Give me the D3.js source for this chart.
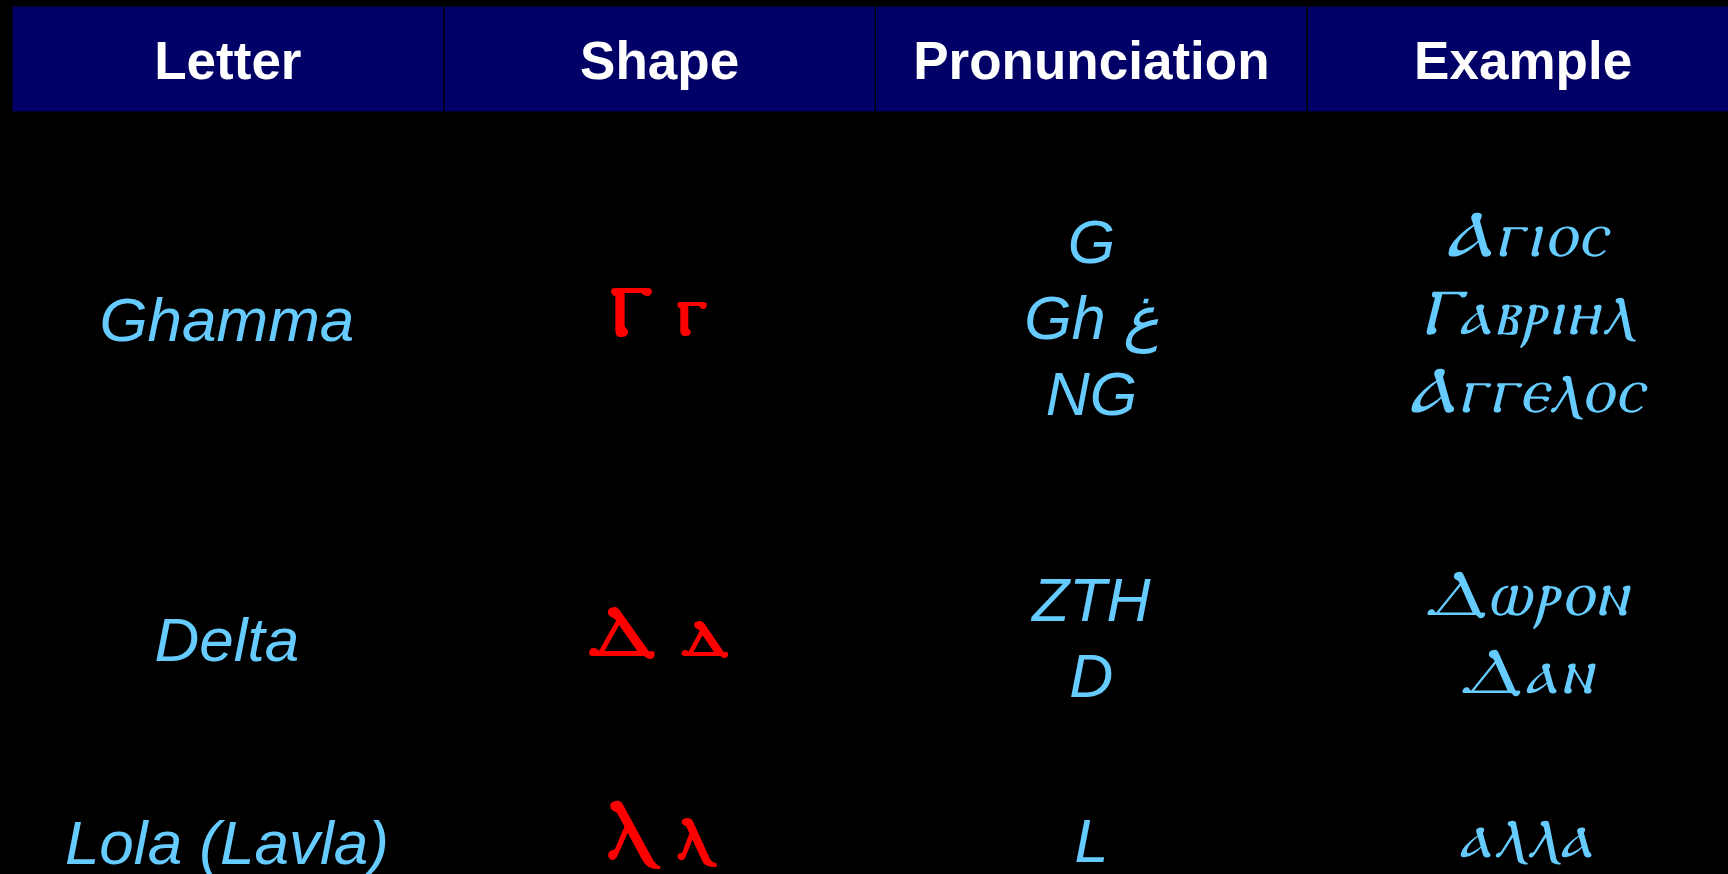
<!DOCTYPE html>
<html>
<head>
<meta charset="utf-8">
<script src="https://cdn.jsdelivr.net/npm/d3@7"></script>
<style>
  html, body { margin: 0; padding: 0; background: #000; overflow: hidden; }
  svg { display: block; }
</style>
</head>
<body>
<svg id="chart" width="1728" height="874"></svg>
<script>
// ---- data ----
const headers = ["Letter", "Shape", "Pronunciation", "Example"];
const letterNames = ["Ghamma", "Delta", "Lola (Lavla)"];
const shapes = ["Ⲅ ⲅ", "Ⲇ ⲇ", "Ⲗ ⲗ"];
const pronunciations = [["G", "Gh غ", "NG"], ["ZTH", "D"], ["L"]];
const examples = [["Ⲁⲅⲓⲟⲥ", "Ⲅⲁⲃⲣⲓⲏⲗ", "Ⲁⲅⲅⲉⲗⲟⲥ"], ["Ⲇⲱⲣⲟⲛ", "Ⲇⲁⲛ"], ["ⲁⲗⲗⲁ"]];

const W = 1728, H = 874;
const svg = d3.select("#chart");
svg.append("rect").attr("width", W).attr("height", H).attr("fill", "#000");

const x = d3.scaleBand().domain(headers).range([12, 1739]).paddingInner(0);
const rowY = d3.scaleOrdinal().domain(d3.range(letterNames.length)).range([320, 640, 843]);

// header
const hdr = svg.append("g");
hdr.selectAll("rect").data(headers).join("rect")
  .attr("x", d => x(d)).attr("y", 6)
  .attr("width", x.bandwidth()).attr("height", 106)
  .attr("fill", "#000066").attr("stroke", "#000").attr("stroke-width", 1.2);
hdr.selectAll("text").data(headers).join("text")
  .attr("x", d => x(d) + x.bandwidth() / 2).attr("y", 79)
  .attr("text-anchor", "middle")
  .attr("fill", "#fff")
  .attr("font-family", "Liberation Sans, Arial, sans-serif")
  .attr("font-weight", "bold").attr("font-size", 53)
  .text(d => d);

const sans = "Liberation Sans, Arial, sans-serif";
const copt = "DejaVu Serif, DejaVu Sans, Noto Sans, serif";

function multiline(sel, lines, cx, baseMid, opts) {
  const n = lines.length;
  const t = sel.append("text")
    .attr("text-anchor", "middle")
    .attr("fill", opts.fill)
    .attr("font-family", opts.family)
    .attr("font-style", opts.style || "normal")
    .attr("font-weight", opts.weight || "normal")
    .attr("font-size", opts.size)
    .attr("letter-spacing", opts.ls || 0);
  lines.forEach((ln, i) => {
    t.append("tspan").attr("x", cx)
      .attr("y", baseMid + (i - (n - 1) / 2) * opts.lh)
      .text(ln);
  });
}

const body = svg.append("g");
const cx = k => x(k) + x.bandwidth() / 2;
letterNames.forEach((name, i) => {
  const cy = rowY(i);
  multiline(body, [name], cx("Letter") - 1, cy + 21,
    { fill: "#66ccff", family: sans, style: "italic", size: 62, lh: 76 });
  multiline(body, [shapes[i]], cx("Shape") - 1, cy + 15,
    { fill: "#ff0000", family: copt, weight: "bold", size: 70, lh: 76 });
  multiline(body, pronunciations[i], cx("Pronunciation"), cy + 19,
    { fill: "#66ccff", family: sans, style: "italic", size: 61, lh: 76 });
  multiline(body, examples[i], cx("Example") + 4, cy + 14,
    { fill: "#66ccff", family: copt, style: "italic", size: 64, lh: 78, ls: 3 });
});
</script>
</body>
</html>
